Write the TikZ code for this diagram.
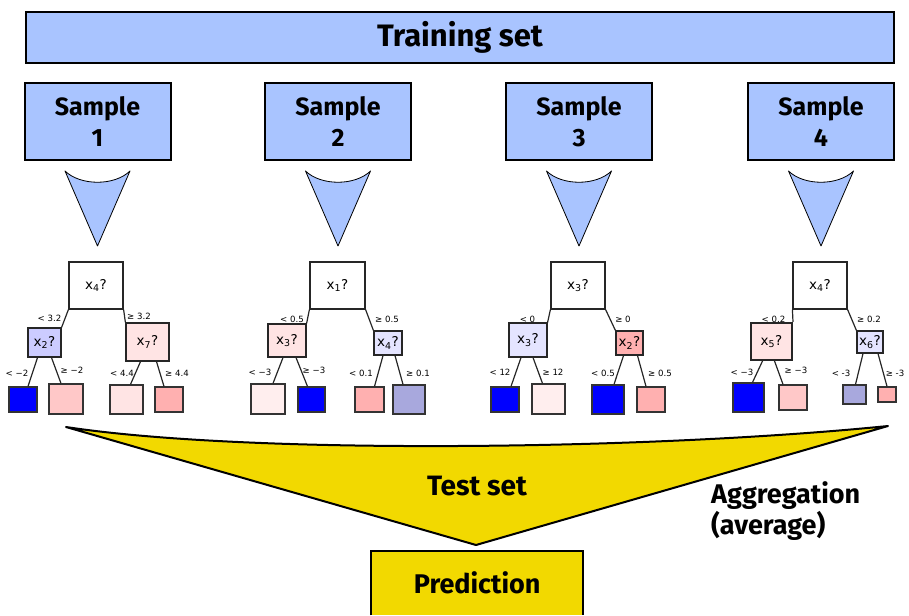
\documentclass[tikz,border=0pt]{standalone}
\usepackage{fontspec}
\setmainfont{DejaVu Sans}
\newfontfamily\headfont{Fira Sans}
\definecolor{skyb}{RGB}{169,196,255}
\definecolor{gold}{RGB}{242,217,0}
\definecolor{pA}{RGB}{255,228,228}
\definecolor{pB}{RGB}{255,200,200}
\definecolor{pC}{RGB}{255,176,176}
\definecolor{pD}{RGB}{255,238,238}
\definecolor{bA}{RGB}{204,204,255}
\definecolor{bB}{RGB}{228,228,255}
\definecolor{bC}{RGB}{168,168,221}
\newcommand\tedge[4]{\draw[tedge] ([xshift=#2pt]#1.south) -- ([xshift=#4pt]#3.north);}
\newcommand\headsz[1]{\headfont\bfseries\fontsize{#1}{31}\selectfont}
\begin{document}
\begin{tikzpicture}[x=1pt,y=-1pt,
  bigbox/.style={draw=black, line width=2pt, fill=skyb, font=\headsz{25}, align=center, inner sep=0pt},
  head/.style={font=\headsz{27}, inner sep=0pt},
  tn/.style={draw=black!85, line width=1.2pt, inner sep=0pt, font=\fontsize{13.5}{15}\selectfont},
  lf/.style={draw=black!80, line width=1.2pt, inner sep=0pt},
  tedge/.style={draw=black!85, line width=1.2pt},
  elab/.style={font=\fontsize{8.6}{10}\selectfont, inner sep=0pt},
  funnel/.style={draw=black, line width=0.8pt, fill=skyb, line join=round}]
\useasboundingbox (0,0) rectangle (909,615);

% top
\node[bigbox, font=\headsz{31}, minimum width=868pt, minimum height=51pt] (train) at (460,37.5) {Training set};
\foreach \n/\cx in {1/97.5,2/338,3/579,4/821}{
  \node[bigbox, minimum width=146pt, minimum height=77pt] (s\n) at (\cx,121.5) {Sample\\\n};
  \draw[funnel] (\cx-32.5,171) .. controls (\cx-17,186) and (\cx+17,186) .. (\cx+32.5,171) -- (\cx,246) -- cycle;
}

% tree 1
\node[tn, fill=white, minimum width=54pt, minimum height=47pt] (r1) at (96,285.5) {x\textsubscript{4}?};
\node[tn, fill=bA, minimum width=33pt, minimum height=29pt] (a1) at (44.5,342.5) {x\textsubscript{2}?};
\node[tn, fill=pA, minimum width=43pt, minimum height=38pt] (b1) at (147.5,342) {x\textsubscript{7}?};
\node[lf, fill=blue, minimum width=28pt, minimum height=25pt] (l11) at (23,399.5) {};
\node[lf, fill=pB, minimum width=34pt, minimum height=30pt] (l12) at (66,399) {};
\node[lf, fill=pA, minimum width=33pt, minimum height=29pt] (l13) at (126.5,399.5) {};
\node[lf, fill=pC, minimum width=28pt, minimum height=25pt] (l14) at (169,399.5) {};
\draw[tedge] (r1.south west) -- (a1.north east);
\draw[tedge] (r1.south east) -- (b1.north west);
\tedge{a1}{-7}{l11}{5}
\tedge{a1}{7}{l12}{-5}
\tedge{b1}{-7}{l13}{4}
\tedge{b1}{9}{l14}{-5}
\node[elab] (e11) at (49.5,318) {< 3.2};
\node[elab] (e12) at (139,316) {≥ 3.2};
\node[elab] (e13) at (17,373) {< −2};
\node[elab] (e14) at (72,370) {≥ −2};
\node[elab] (e15) at (122,373) {< 4.4};
\node[elab] (e16) at (177,373) {≥ 4.4};

% tree 2
\node[tn, fill=white, minimum width=55pt, minimum height=47pt] (r2) at (337.5,285.5) {x\textsubscript{1}?};
\node[tn, fill=pA, minimum width=38pt, minimum height=33pt] (a2) at (287,340.5) {x\textsubscript{3}?};
\node[tn, fill=bB, minimum width=28pt, minimum height=24pt] (b2) at (388,343) {x\textsubscript{4}?};
\node[lf, fill=pD, minimum width=34pt, minimum height=30pt] (l21) at (268,399) {};
\node[lf, fill=blue, minimum width=27pt, minimum height=25pt] (l22) at (311.5,399.5) {};
\node[lf, fill=pC, minimum width=29pt, minimum height=25pt] (l23) at (369.5,399.5) {};
\node[lf, fill=bC, minimum width=32pt, minimum height=29pt] (l24) at (409,399.5) {};
\draw[tedge] (r2.south west) -- (a2.north east);
\draw[tedge] (r2.south east) -- (b2.north west);
\tedge{a2}{-4}{l21}{5}
\tedge{a2}{9}{l22}{-4}
\tedge{b2}{-5}{l23}{5}
\tedge{b2}{7}{l24}{-6}
\node[elab] (e21) at (292,319) {< 0.5};
\node[elab] (e22) at (387,319) {≥ 0.5};
\node[elab] (e23) at (260,372) {< −3};
\node[elab] (e24) at (314,370) {≥ −3};
\node[elab] (e25) at (361,373) {< 0.1};
\node[elab] (e26) at (418,373) {≥ 0.1};

% tree 3
\node[tn, fill=white, minimum width=54pt, minimum height=47pt] (r3) at (578,285.5) {x\textsubscript{3}?};
\node[tn, fill=bB, minimum width=38pt, minimum height=34pt] (a3) at (528,340) {x\textsubscript{3}?};
\node[tn, fill=pC, minimum width=27pt, minimum height=24pt] (b3) at (629.5,343) {x\textsubscript{2}?};
\node[lf, fill=blue, minimum width=28pt, minimum height=25pt] (l31) at (505,399.5) {};
\node[lf, fill=pD, minimum width=33pt, minimum height=30pt] (l32) at (548.5,399) {};
\node[lf, fill=blue, minimum width=32pt, minimum height=29pt] (l33) at (608,399.5) {};
\node[lf, fill=pC, minimum width=28pt, minimum height=25pt] (l34) at (651,399.5) {};
\draw[tedge] (r3.south west) -- (a3.north east);
\draw[tedge] (r3.south east) -- (b3.north west);
\tedge{a3}{-7}{l31}{6}
\tedge{a3}{5}{l32}{-6}
\tedge{b3}{-6}{l33}{6}
\tedge{b3}{8}{l34}{-5}
\node[elab] (e31) at (527.5,319) {< 0};
\node[elab] (e32) at (623,319) {≥ 0};
\node[elab] (e33) at (500,372) {< 12};
\node[elab] (e34) at (553,372) {≥ 12};
\node[elab] (e35) at (603,373) {< 0.5};
\node[elab] (e36) at (660,373) {≥ 0.5};

% tree 4
\node[tn, fill=white, minimum width=54pt, minimum height=47pt] (r4) at (820,285.5) {x\textsubscript{4}?};
\node[tn, fill=pA, line width=2pt, minimum width=41pt, minimum height=37pt] (a4) at (771.5,341.5) {x\textsubscript{5}?};
\node[tn, fill=bB, minimum width=26pt, minimum height=22pt] (b4) at (870,342) {x\textsubscript{6}?};
\node[lf, fill=blue, minimum width=31pt, minimum height=29pt] (l41) at (748.5,397.5) {};
\node[lf, fill=pB, minimum width=28pt, minimum height=25pt] (l42) at (793,397.5) {};
\node[lf, fill=bC, minimum width=23pt, minimum height=19pt] (l43) at (854.5,394.5) {};
\node[lf, fill=pC, minimum width=18pt, minimum height=15pt] (l44) at (887,394.5) {};
\draw[tedge] (r4.south west) -- (a4.north east);
\draw[tedge] (r4.south east) -- (b4.north west);
\tedge{a4}{-9}{l41}{4}
\tedge{a4}{3}{l42}{-10}
\tedge{b4}{-7}{l43}{1}
\tedge{b4}{8}{l44}{0}
\node[elab] (e41) at (773.5,319) {< 0.2};
\node[elab] (e42) at (869,319) {≥ 0.2};
\node[elab] (e43) at (742,372) {< −3};
\node[elab] (e44) at (796,370) {≥ −3};
\node[elab] (e45) at (841,373) {< -3};
\node[elab] (e46) at (895,373) {≥ -3};

% aggregation
\draw[line width=2pt, fill=gold, line join=round] (66,427) .. controls (250,455) and (650,450) .. (888,426) -- (476,545) -- cycle;
\node[head, font=\headsz{28}] (test) at (477,486) {Test set};
\node[head, anchor=west, align=left] (agg) at (711,511) {Aggregation\\(average)};
\node[head, fill=gold, minimum width=212pt, minimum height=64pt, anchor=north west] (pred) at (371,551) {Prediction};
\draw[line width=2pt] (pred.south west) -- (pred.north west) -- (pred.north east) -- (pred.south east);
\end{tikzpicture}
\end{document}
